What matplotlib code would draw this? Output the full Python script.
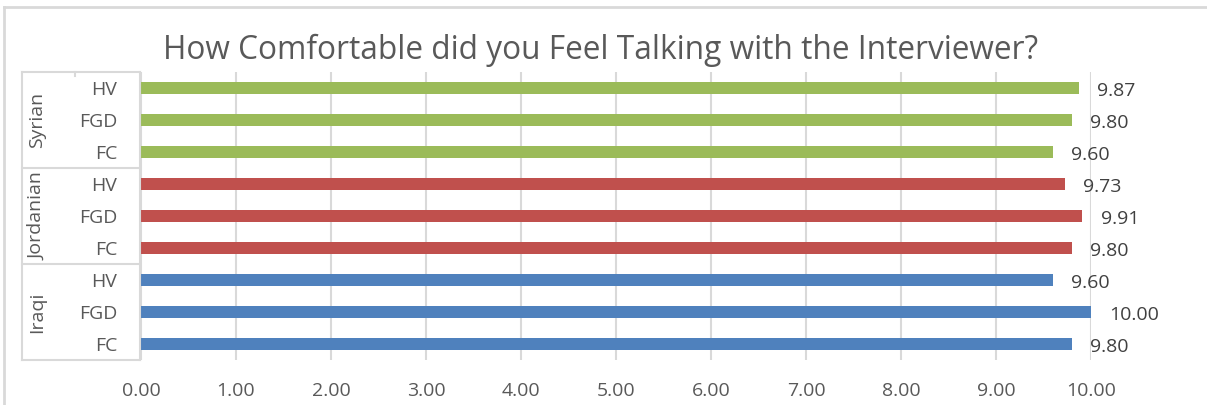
import matplotlib.pyplot as plt
from matplotlib.lines import Line2D

# 数据
groups = ["Iraqi", "Jordanian", "Syrian"]
methods = ["FC", "FGD", "HV"]
iraqi = [9.80, 10.00, 9.60]
jordanian = [9.80, 9.91, 9.73]
syrian = [9.60, 9.80, 9.87]
group_colors = ["#4F81BD", "#C0504D", "#9BBB59"]
x_ticks = [0, 1, 2, 3, 4, 5, 6, 7, 8, 9, 10]

plt.rcParams["font.family"] = ["Open Sans", "DejaVu Sans"]
FS = 14

W, H = 1207, 405
fig = plt.figure(figsize=(W / 100, H / 100), dpi=100)

# 绘图区 (像素坐标换算)
x0, x1 = 141, 1091
y_top, y_bot = 72, 360
ax = fig.add_axes([x0 / W, 1 - y_bot / H, (x1 - x0) / W, (y_bot - y_top) / H])

all_vals = [iraqi, jordanian, syrian]
pos = 0
ytick_pos, ytick_lab = [], []
for g, vals in enumerate(all_vals):
    for m, v in zip(methods, vals):
        ax.barh(pos, v, height=0.375, color=group_colors[g], zorder=3)
        ax.annotate(f"{v:.2f}", xy=(v, pos), xytext=(13, -2), textcoords="offset points",
                    ha="left", va="center", fontsize=FS, color="#404040",
                    annotation_clip=False)
        ytick_pos.append(pos)
        ytick_lab.append(m)
        pos += 1

ax.set_xlim(0, 10)
ax.set_ylim(-0.5, pos - 0.5)
ax.set_xticks(x_ticks)
ax.set_xticklabels([f"{t:.2f}" for t in x_ticks], fontsize=FS, color="#595959")
ax.set_yticks(ytick_pos)
ax.set_yticklabels(ytick_lab, fontsize=FS, color="#595959")
ax.tick_params(axis="x", length=0, pad=16)
ax.tick_params(axis="y", length=0, pad=17)
for s in ax.spines.values():
    s.set_visible(False)
ax.grid(axis="x", color="#D9D9D9", linewidth=1.5, zorder=0)
ax.set_axisbelow(True)

# 分组标签和分隔框
def fx(px):
    return px / W

def fy(py):
    return 1 - py / H

box_col = "#D9D9D9"
for py in [72, 167.5, 264, 360]:
    fig.add_artist(Line2D([fx(22), fx(140)], [fy(py), fy(py)], color=box_col, lw=1.5))
fig.add_artist(Line2D([fx(22), fx(22)], [fy(72), fy(360)], color=box_col, lw=1.5))
fig.add_artist(Line2D([fx(140), fx(140)], [fy(72), fy(360)], color=box_col, lw=1.5))
fig.add_artist(Line2D([fx(75), fx(75)], [fy(72), fy(76)], color=box_col, lw=1.5))

group_centers = [312, 216, 120]
for name, cy in zip(groups, group_centers):
    fig.text(fx(37), fy(cy), name, rotation=90, ha="center", va="center",
             fontsize=FS, color="#595959")

# 外框
fig.add_artist(Line2D([fx(4), fx(4)], [fy(7), 0], color=box_col, lw=2))
fig.add_artist(Line2D([fx(4), 1], [fy(7), fy(7)], color=box_col, lw=2))

fig.text(fx(601), fy(50), "How Comfortable did you Feel Talking with the Interviewer?",
         ha="center", va="center", fontsize=22.8, color="#595959")

fig.savefig("out.png", dpi=100)
